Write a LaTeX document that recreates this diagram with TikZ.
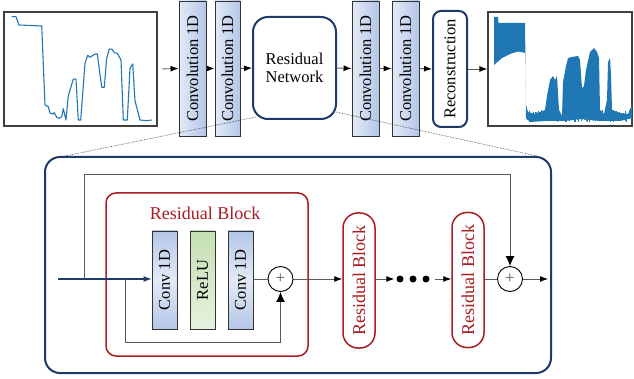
\documentclass[tikz,border=0pt]{standalone}
\usepackage{fontspec}
\setmainfont{Liberation Serif}
\usetikzlibrary{arrows.meta,shapes.geometric}
\definecolor{dblue}{HTML}{203A6A}
\definecolor{dred}{HTML}{A81C22}
\definecolor{lgray}{HTML}{595959}
\definecolor{mplblue}{HTML}{1F77B4}
\definecolor{cbA}{HTML}{B4C6E7}
\definecolor{cbB}{HTML}{E3EAF6}
\definecolor{grA}{HTML}{C5E0B4}
\definecolor{grB}{HTML}{E5F1DD}
\tikzset{
  fs/.style={font=\fontsize{16.5}{19}\selectfont},
  convtop/.style={draw=black!80, line width=0.9pt, left color=cbB, right color=cbA, minimum width=27pt, minimum height=135pt, inner sep=0pt, fs},
  convbot/.style={draw=black!80, line width=0.9pt, top color=cbA, bottom color=cbA, middle color=cbB, minimum width=25pt, minimum height=98pt, inner sep=0pt, fs},
  relubox/.style={draw=black!80, line width=0.9pt, top color=grA, bottom color=grB, minimum width=25pt, minimum height=98pt, inner sep=0pt, fs},
  bluebox/.style={draw=dblue, line width=2pt, rounded corners=15pt, fill=white, inner sep=0pt, fs},
  plotbox/.style={draw=black!75, line width=1.3pt, inner sep=0pt},
  rbox/.style={draw=dred, line width=1.5pt, text=dred, rounded corners=15pt, minimum width=32pt, minimum height=135pt, inner sep=0pt, font=\fontsize{18}{21}\selectfont},
  pl/.style={draw=black, line width=0.9pt, circle, minimum size=25pt, inner sep=0pt, text=lgray, font=\fontsize{17}{17}\selectfont},
  dotn/.style={circle, fill=black, inner sep=0pt, minimum size=7pt},
  conn/.style={draw=lgray, line width=0.9pt},
  arr/.style={conn, -{Latex[length=8pt,width=6pt,color=black]}},
  bigarr/.style={conn, -{Latex[length=10pt,width=9pt,color=black]}},
  zoomline/.style={draw=black!80, line width=0.6pt, densely dotted}
}
\begin{document}
\begin{tikzpicture}[x=1pt,y=-1pt]
\path[use as bounding box, fill=white] (0,0) rectangle (634,379);

% ---------- top row ----------
\node[plotbox, minimum width=153pt, minimum height=114pt] (inplot) at (80.5,69) {};
\draw[mplblue, line width=1.1pt, line join=round] plot coordinates {
(11.7,16.7) (16,16.7) (19,25) (41.7,26) (45,105) (48.3,106.7) (50,113) (52.7,114) (54.3,112.7) (56.7,117.3) (59.3,118.3) (61.7,116.7) (63.3,108.7) (66,120) (68.3,96) (73.3,79) (76,79.3) (78.3,120) (80.7,120) (85,63.3) (87.7,55.3) (90,57.3) (95,54) (97.3,54) (101.7,87.3) (104.3,87.3) (106.7,58.3) (109.3,49) (112,49.3) (114.3,52.7) (117.3,53.3) (121,60) (123.3,120) (127.3,120) (130,68.3) (132.7,64) (135,100.7) (140,120) (146.7,120.7) (151.7,120)};

\node[convtop] (conv1) at (192.5,68.5) {\rotatebox{90}{Convolution 1D}};
\node[convtop, minimum width=25pt] (conv2) at (227.5,68.5) {\rotatebox{90}{Convolution 1D}};
\node[bluebox, minimum width=83pt, minimum height=102pt, align=center] (resnet) at (294.5,68) {Residual\\[-1pt]Network};
\node[convtop] (conv3) at (365.5,68.5) {\rotatebox{90}{Convolution 1D}};
\node[convtop] (conv4) at (405.5,68.5) {\rotatebox{90}{Convolution 1D}};
\node[bluebox, rounded corners=8pt, minimum width=34pt, minimum height=116pt] (recon) at (450,69) {\rotatebox{90}{Reconstruction}};
\node[plotbox, minimum width=144pt, minimum height=114pt] (outplot) at (560,69) {};

% output signal
\begin{scope}
\clip (489,13) rectangle (632,125);
\fill[mplblue] (494,17) -- (498,17) -- (498.5,23) -- (525,23) -- (526,105) -- (528,112) -- (535,114) -- (545,110) -- (547,96) -- (550,80) -- (553,76) -- (555,80) -- (557,76) -- (559,110) -- (562,116) -- (563,82) -- (566,66) -- (568,58) -- (572,57) -- (578,56) -- (580,60) -- (582,88) -- (584,86) -- (586,70) -- (590,52) -- (594,48) -- (597,52) -- (599,58) -- (600,110) -- (604,114) -- (607,100) -- (608,62) -- (610,58) -- (611,75) -- (612,110) -- (620,113) -- (628,114) -- (632,105)
 -- (632,118) -- (620,121) -- (600,121) -- (580,119) -- (565,121) -- (545,121) -- (530,122) -- (526,118) -- (525.5,53) -- (518,51.5) -- (510,54) -- (502,58) -- (494,65) -- cycle;
\pgfmathsetseed{7}
\foreach \xx in {526,527.5,...,631} {
  \pgfmathsetmacro{\ya}{110+6*rnd}
  \pgfmathsetmacro{\yb}{118+4*rnd}
  \draw[mplblue, line width=0.8pt] (\xx,\ya) -- (\xx,\yb);
}
\end{scope}

\draw[arr, shorten <=5pt] (inplot.east) -- (conv1.west);
\draw[arr] (conv1.east) -- (conv2.west);
\draw[arr] (conv2.east) -- (resnet.west);
\draw[arr] (resnet.east) -- (conv3.west);
\draw[arr] (conv3.east) -- (conv4.west);
\draw[arr] (conv4.east) -- (recon.west);
\draw[arr] (recon.east) -- (outplot.west);

% ---------- bottom ----------
\node[bluebox, fill=none, minimum width=506pt, minimum height=216pt] (bigbox) at (298,265) {};
\coordinate (zl) at (60,157);
\coordinate (zr) at (537,156);
\draw[zoomline] (resnet.south west) ++(4,-3) coordinate (rsw) -- (zl);
\draw[zoomline] (resnet.south east) ++(-1,-8) coordinate (rse) -- (zr);

\node[draw=dred, line width=1.5pt, rounded corners=10pt, minimum width=202pt, minimum height=163pt, inner sep=0pt] (rb1) at (207,274.5) {};
\node[text=dred, font=\fontsize{18}{21}\selectfont] (rbtitle) at (205,213) {Residual Block};
\node[convbot] (c1) at (164.5,280) {\rotatebox{90}{Conv 1D}};
\node[relubox] (relu) at (202.5,280) {\rotatebox{90}{ReLU}};
\node[convbot] (c2) at (240.5,280) {\rotatebox{90}{Conv 1D}};
\node[pl] (plus1) at (280.5,279) {+};
\node[rbox] (rb2) at (359,280.5) {\rotatebox{90}{Residual Block}};
\node[dotn] (d1) at (400,279) {};
\node[dotn] (d2) at (413,279) {};
\node[dotn] (d3) at (426,279) {};
\node[rbox] (rb3) at (468,280) {\rotatebox{90}{Residual Block}};
\node[pl] (plus2) at (510,279) {+};

\coordinate (in) at (58,279);
\coordinate (br) at (84,279);
\coordinate (brtop) at (84,174);
\coordinate (sk) at (125,279);
\coordinate (skbot) at (125,342);
\coordinate (out) at (548,279);

\draw[draw=dblue, line width=1.1pt, -{Latex[length=8pt,width=6pt]}] (in) -- (c1.west |- in);
\draw[conn] (br) -- (brtop);
\draw[bigarr] (brtop) -| (plus2.north);
\draw[conn] (sk) -- (skbot);
\draw[bigarr] (skbot) -| (plus1.south);
\draw[conn] (c2.east |- plus1) -- (plus1.west);
\draw[arr] (plus1.east) -- (rb2.west |- plus1);
\draw[arr, shorten >=2pt] (rb2.east |- d1) -- (d1.west);
\draw[arr, shorten <=5pt] (d3.east) -- (rb3.west |- d3);
\draw[conn] (rb3.east |- plus2) -- (plus2.west);
\draw[arr] (plus2.east) -- (out);
\end{tikzpicture}
\end{document}
